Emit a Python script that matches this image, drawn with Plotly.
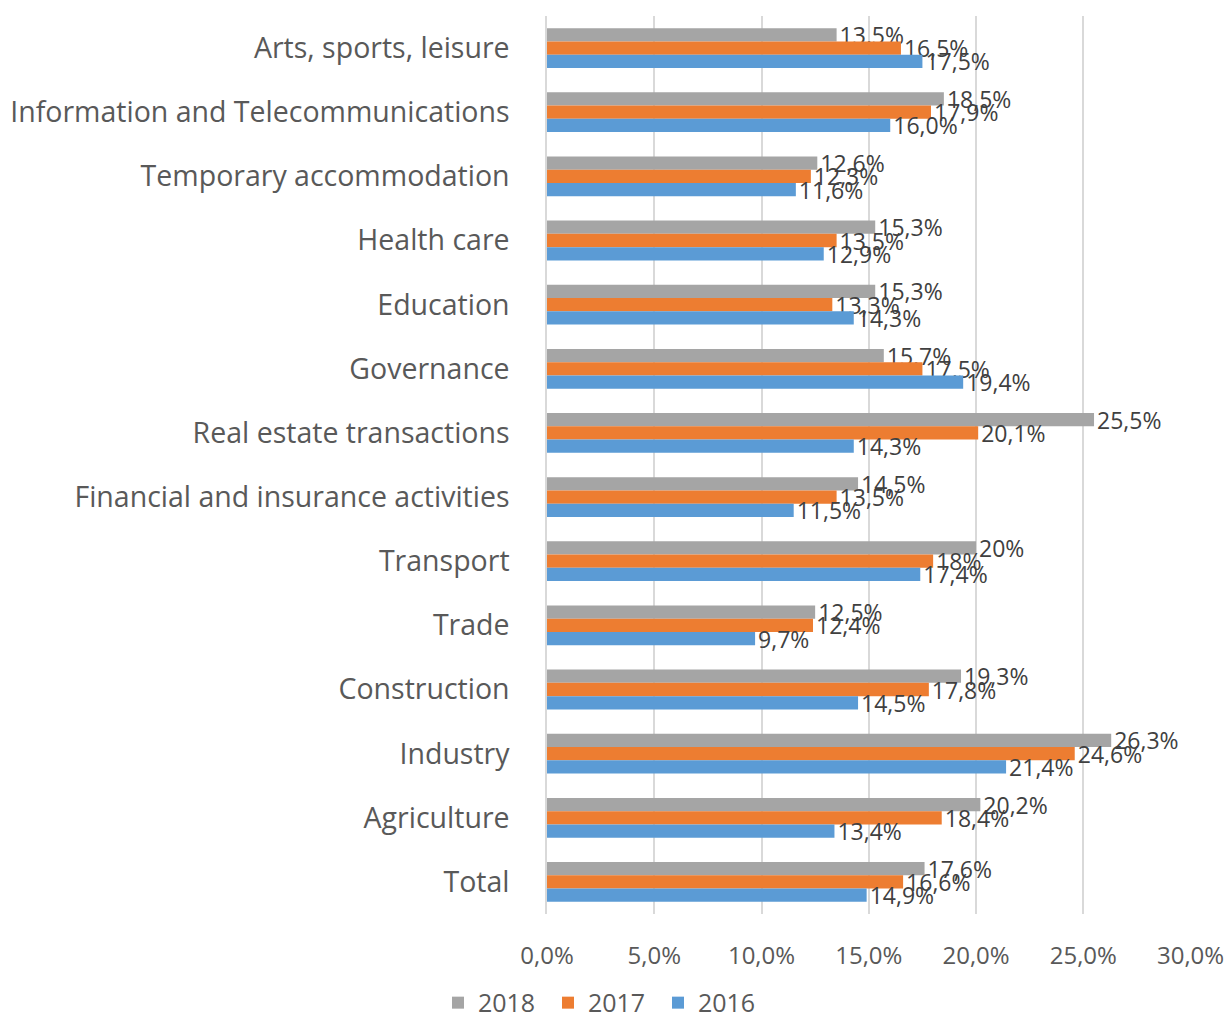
import plotly.graph_objects as go

categories = ["Arts, sports, leisure", "Information and Telecommunications",
              "Temporary accommodation", "Health care", "Education", "Governance",
              "Real estate transactions", "Financial and insurance activities",
              "Transport", "Trade", "Construction", "Industry", "Agriculture", "Total"]
v2018 = [13.5, 18.5, 12.6, 15.3, 15.3, 15.7, 25.5, 14.5, 20.0, 12.5, 19.3, 26.3, 20.2, 17.6]
v2017 = [16.5, 17.9, 12.3, 13.5, 13.3, 17.5, 20.1, 13.5, 18.0, 12.4, 17.8, 24.6, 18.4, 16.6]
v2016 = [17.5, 16.0, 11.6, 12.9, 14.3, 19.4, 14.3, 11.5, 17.4, 9.7, 14.5, 21.4, 13.4, 14.9]
labels2018 = ["13,5%", "18,5%", "12,6%", "15,3%", "15,3%", "15,7%", "25,5%", "14,5%", "20%", "12,5%", "19,3%", "26,3%", "20,2%", "17,6%"]
labels2017 = ["16,5%", "17,9%", "12,3%", "13,5%", "13,3%", "17,5%", "20,1%", "13,5%", "18%", "12,4%", "17,8%", "24,6%", "18,4%", "16,6%"]
labels2016 = ["17,5%", "16,0%", "11,6%", "12,9%", "14,3%", "19,4%", "14,3%", "11,5%", "17,4%", "9,7%", "14,5%", "21,4%", "13,4%", "14,9%"]
series = [("2018", v2018, labels2018, "#A5A5A5"),
          ("2017", v2017, labels2017, "#ED7D31"),
          ("2016", v2016, labels2016, "#5B9BD5")]
xticks = [0, 5, 10, 15, 20, 25, 30]
xticklabels = ["0,0%", "5,0%", "10,0%", "15,0%", "20,0%", "25,0%", "30,0%"]

FONT = "Open Sans"
TXT = "#595959"
LBL = "#404040"

fig = go.Figure()
for name, vals, labs, col in series:
    fig.add_trace(go.Bar(
        y=categories, x=vals, name=name, orientation="h",
        marker=dict(color=col, line=dict(width=0)),
        text=labs, textposition="outside", constraintext="none",
        cliponaxis=False,
        textfont=dict(family=FONT, size=23, color=LBL),
    ))

fig.update_layout(
    width=1232, height=1018,
    barmode="group", bargap=0.38, bargroupgap=0,
    plot_bgcolor="white", paper_bgcolor="white",
    margin=dict(l=547, r=41, t=16, b=104, autoexpand=False),
    font=dict(family=FONT, color=TXT),
    xaxis=dict(range=[0, 30.02], tickvals=xticks, ticktext=xticklabels,
               showgrid=True, gridcolor="#D9D9D9", gridwidth=1.5,
               zeroline=False, showline=False, automargin=False,
               ticklabeloverflow="allow",
               tickfont=dict(family=FONT, size=24, color=TXT),
               ticklabelstandoff=25),
    yaxis=dict(autorange="reversed", showgrid=False, showline=True,
               linecolor="#D9D9D9", linewidth=1.5, automargin=False,
               ticklabeloverflow="allow",
               tickfont=dict(family=FONT, size=28.5, color=TXT),
               ticklabelstandoff=30),
    legend=dict(orientation="h", xref="container", x=0.3555, xanchor="left",
                yref="paper", y=-0.099, yanchor="middle",
                font=dict(family=FONT, size=25, color=TXT),
                traceorder="normal", itemwidth=30, entrywidth=65),
    showlegend=True,
)

fig.write_html("out.html", config={"displayModeBar": False},
               post_script="document.body.style.margin='0px';")
